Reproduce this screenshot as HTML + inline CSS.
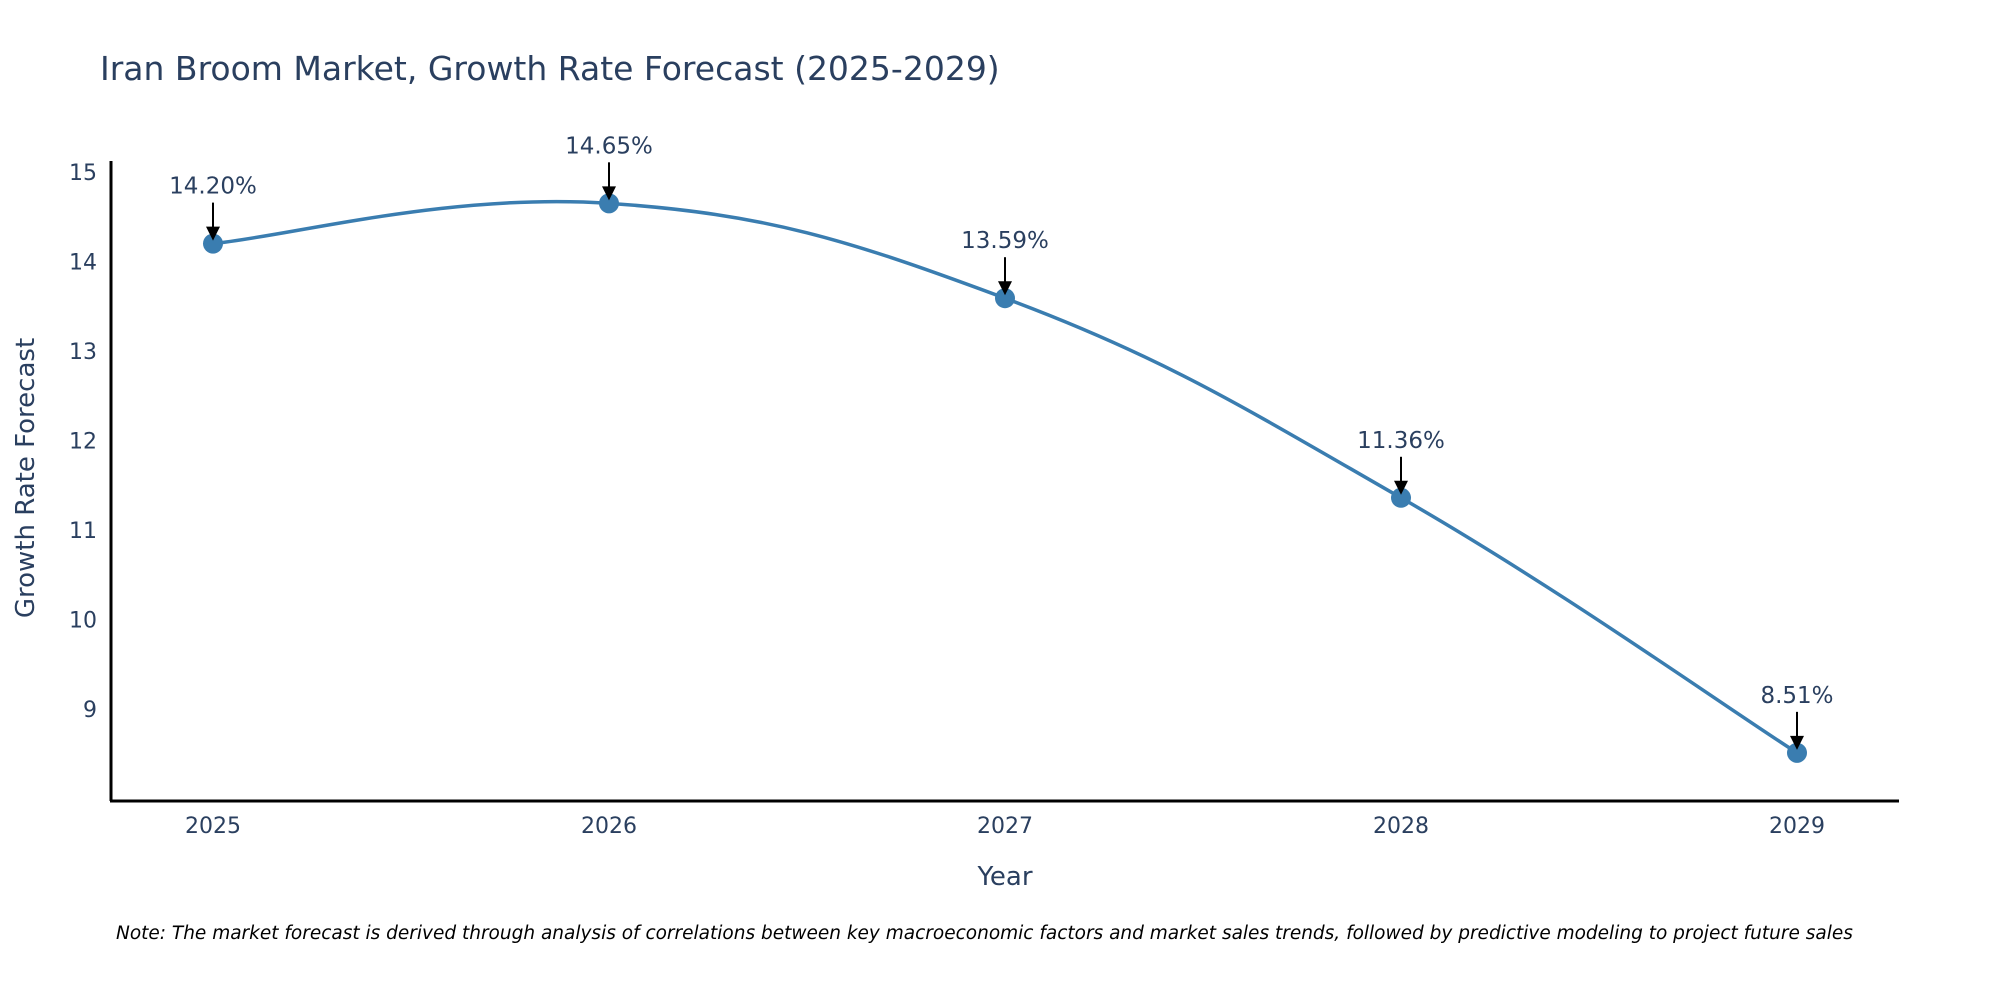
<!DOCTYPE html>
<html><head><meta charset="utf-8">
<style>
html,body{margin:0;padding:0;background:#fff;}
svg{display:block;font-family:"DejaVu Sans","Liberation Sans",sans-serif;}
</style></head>
<body>
<svg id="chart" width="2000" height="1000" viewBox="0 0 2000 1000">
  <text x="100" y="80" font-size="33" fill="#2a3f5f">Iran Broom Market, Growth Rate Forecast (2025-2029)</text>
  <g id="yticks"></g>
  <g id="xticks"></g>
  <g id="series"></g>
  <g id="annots"></g>
  <line x1="111" y1="161" x2="111" y2="801" stroke="#000" stroke-width="3"/>
  <line x1="110" y1="801" x2="1899" y2="801" stroke="#000" stroke-width="3"/>
  <text transform="translate(34,478) rotate(-90)" text-anchor="middle" font-size="26" fill="#2a3f5f">Growth Rate Forecast</text>
  <text x="1005" y="885" text-anchor="middle" font-size="26" fill="#2a3f5f">Year</text>
  <text x="116" y="939" font-size="18.5" font-style="italic" fill="#000">Note: The market forecast is derived through analysis of correlations between key macroeconomic factors and market sales trends, followed by predictive modeling to project future sales</text>
</svg>
<script>
const categories = ["2025","2026","2027","2028","2029"];
const values = [14.20, 14.65, 13.59, 11.36, 8.51];
const valueLabels = ["14.20%","14.65%","13.59%","11.36%","8.51%"];
const yTickValues = [9,10,11,12,13,14,15];

const NS="http://www.w3.org/2000/svg";
function xScale(i){return 213 + i*(1797-213)/(categories.length-1);}
function yScale(v){return 709 - (v-9)*89.5;}
function mk(tag,attrs,parent){const e=document.createElementNS(NS,tag);for(const k in attrs)e.setAttribute(k,attrs[k]);parent.appendChild(e);return e;}

const yt=document.getElementById('yticks');
yTickValues.forEach(v=>{
  const t=mk('text',{x:97,y:yScale(v)+8,'text-anchor':'end','font-size':22,fill:'#2a3f5f'},yt);
  
  
  t.textContent=v;
});
const xt=document.getElementById('xticks');
categories.forEach((c,i)=>{
  const t=mk('text',{x:xScale(i),y:833,'text-anchor':'middle','font-size':22,fill:'#2a3f5f'},xt);
  
  
  t.textContent=c;
});

const pts=values.map((v,i)=>[xScale(i),yScale(v)]);
let d=`M${pts[0][0]},${pts[0][1]}`;
const s=0.6;
for(let i=0;i<pts.length-1;i++){
  const p0=pts[Math.max(0,i-1)],p1=pts[i],p2=pts[i+1],p3=pts[Math.min(pts.length-1,i+2)];
  const c1=[p1[0]+(p2[0]-p0[0])*s/3,p1[1]+(p2[1]-p0[1])*s/3];
  const c2=[p2[0]-(p3[0]-p1[0])*s/3,p2[1]-(p3[1]-p1[1])*s/3];
  d+=` C${c1[0]},${c1[1]} ${c2[0]},${c2[1]} ${p2[0]},${p2[1]}`;
}
const ser=document.getElementById('series');
const line=mk('path',{d:d,fill:'none',stroke:'#3a7db0','stroke-width':3.5},ser);


pts.forEach((p,i)=>{
  const c=mk('circle',{cx:p[0],cy:p[1],r:10,fill:'#3a7db0'},ser);
  
  
});

const an=document.getElementById('annots');
pts.forEach((p,i)=>{
  const g=mk('g',{},an);
  
  
  mk('line',{x1:p[0],y1:p[1]-41,x2:p[0],y2:p[1]-14,stroke:'#000','stroke-width':2},g);
  mk('polygon',{points:`${p[0]-7},${p[1]-17} ${p[0]+7},${p[1]-17} ${p[0]},${p[1]-3}`,fill:'#000'},g);
  const t=mk('text',{x:p[0],y:p[1]-50,'text-anchor':'middle','font-size':23,fill:'#2a3f5f'},g);
  
  
  t.textContent=valueLabels[i];
});
</script>
</body></html>
